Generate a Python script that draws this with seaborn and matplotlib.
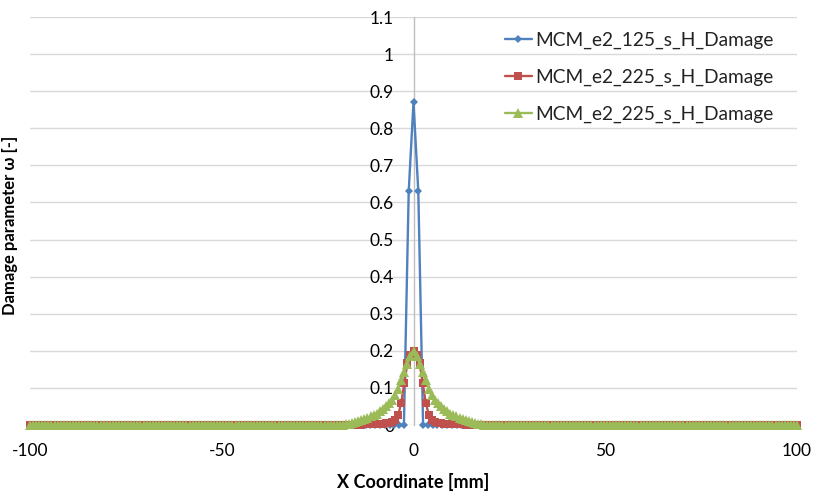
import numpy as np
import pandas as pd
import matplotlib
matplotlib.use("Agg")
import matplotlib.pyplot as plt
import seaborn as sns

# ---------------- data ----------------
series_names = ["MCM_e2_125_s_H_Damage", "MCM_e2_225_s_H_Damage", "MCM_e2_225_s_H_Damage"]
colors = ["#4F81BD", "#C0504D", "#9BBB59"]

# series 1: nodes every 1.25 mm
x_blue = np.linspace(-100, 100, 161)
blue_center_x = [-2.5, -1.25, 0.0, 1.25, 2.5]
blue_center_y = [0.0, 0.63, 0.87, 0.63, 0.0]

# series 2 and 3: nodes every 0.8 mm
x_fine = np.linspace(-100, 100, 251)
# values for x = -19.2 ... 19.2 (step 0.8)
red_center = [0.0, 0.0, 0.0, 0.0, 0.0, 0.001, 0.001, 0.001, 0.002, 0.002, 0.002,
              0.003, 0.003, 0.004, 0.004, 0.005, 0.006, 0.008, 0.013, 0.027, 0.059,
              0.112, 0.167, 0.190, 0.200, 0.190, 0.167, 0.112, 0.059, 0.027, 0.013,
              0.008, 0.006, 0.005, 0.004, 0.004, 0.003, 0.003, 0.002, 0.002, 0.002,
              0.001, 0.001, 0.001, 0.0, 0.0, 0.0, 0.0, 0.0]
green_center = [0.0, 0.001, 0.002, 0.004, 0.006, 0.009, 0.011, 0.014, 0.017, 0.020,
                0.023, 0.027, 0.031, 0.037, 0.043, 0.050, 0.058, 0.068, 0.081, 0.097,
                0.120, 0.143, 0.165, 0.185, 0.200, 0.185, 0.165, 0.143, 0.120, 0.097,
                0.081, 0.068, 0.058, 0.050, 0.043, 0.037, 0.031, 0.027, 0.023, 0.020,
                0.017, 0.014, 0.011, 0.009, 0.006, 0.004, 0.002, 0.001, 0.0]

blue_y = np.zeros(len(x_blue))
for xv, yv in zip(blue_center_x, blue_center_y):
    blue_y[np.argmin(np.abs(x_blue - xv))] = yv

pad = (len(x_fine) - len(red_center)) // 2
red_y = np.array([0.0] * pad + red_center + [0.0] * pad)
green_y = np.array([0.0] * pad + green_center + [0.0] * pad)

y_ticks = [0, 0.1, 0.2, 0.3, 0.4, 0.5, 0.6, 0.7, 0.8, 0.9, 1.0, 1.1]
y_tick_labels = ["0", "0.1", "0.2", "0.3", "0.4", "0.5", "0.6", "0.7", "0.8", "0.9", "1", "1.1"]
x_ticks = [-100, -50, 0, 50, 100]
x_tick_labels = ["-100", "-50", "0", "50", "100"]

# ---------------- style ----------------
sns.set_style("white")
plt.rcParams["font.family"] = ["Lato", "DejaVu Sans"]
text_color = "#000000"

fig = plt.figure(figsize=(8.17, 4.92), dpi=100)
ax = fig.add_axes([30 / 817, 1 - 425 / 492, 767 / 817, 408 / 492])

df_b = pd.DataFrame({"x": x_blue, "y": blue_y})
df_r = pd.DataFrame({"x": x_fine, "y": red_y})
df_g = pd.DataFrame({"x": x_fine, "y": green_y})

sns.lineplot(data=df_b, x="x", y="y", ax=ax, color=colors[0], marker="D", markersize=4.5,
             markeredgewidth=0, linewidth=1.7, label=series_names[0], clip_on=False,
             sort=False, zorder=3)
sns.lineplot(data=df_r, x="x", y="y", ax=ax, color=colors[1], marker="s", markersize=6,
             markeredgewidth=0, linewidth=1.7, label=series_names[1], clip_on=False,
             sort=False, zorder=4)
sns.lineplot(data=df_g, x="x", y="y", ax=ax, color=colors[2], marker="^", markersize=7.5,
             markeredgewidth=0, linewidth=1.7, label=series_names[2], clip_on=False,
             sort=False, zorder=5)

ax.set_xlim(-100, 100)
ax.set_ylim(0, 1.1)
ax.set_yticks(y_ticks)
ax.set_yticklabels(y_tick_labels)
ax.set_xticks(x_ticks)
ax.set_xticklabels(x_tick_labels)

ax.grid(True, axis="y", color="#D9D9D9", linewidth=1.0)
ax.grid(False, axis="x")
ax.set_axisbelow(True)

for s in ["top", "right", "bottom"]:
    ax.spines[s].set_visible(False)
ax.spines["left"].set_position(("data", 0))
ax.spines["left"].set_color("#BFBFBF")
ax.spines["left"].set_linewidth(1.0)
ax.spines["left"].set_zorder(1)

ax.tick_params(axis="y", length=0, pad=14, labelsize=12.5, labelcolor=text_color)
ax.tick_params(axis="x", length=0, pad=13, labelsize=12.5, labelcolor=text_color)

ax.set_xlabel("X Coordinate [mm]", fontsize=13, fontweight="bold", labelpad=10, color=text_color)
ax.set_ylabel("Damage parameter \u03c9 [-]", fontsize=12, fontweight="bold", color=text_color)
ax.yaxis.set_label_coords(-0.016, 0.49, transform=ax.transAxes)

leg = ax.legend(loc="upper left", bbox_to_anchor=(505 / 817, 1 - 32 / 492),
                bbox_transform=fig.transFigure, frameon=False, fontsize=13.8,
                handlelength=1.4, handletextpad=0.2, labelspacing=1.02,
                borderpad=0, borderaxespad=0)
for t in leg.get_texts():
    t.set_color("#222222")

fig.savefig("out.png", dpi=100)
